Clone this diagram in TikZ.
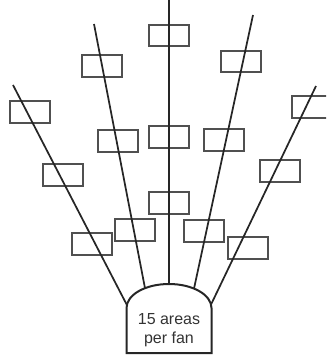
\documentclass[tikz,border=0pt]{standalone}
\usepackage{fontspec}
\setmainfont{Liberation Sans}
\definecolor{linegray}{HTML}{262626}
\definecolor{boxgray}{HTML}{505050}
\definecolor{textgray}{HTML}{333333}
\begin{document}
\begin{tikzpicture}[x=0.75pt,y=-0.75pt,
  area/.style={draw=boxgray,line width=1.5pt,minimum width=30pt,minimum height=16pt,inner sep=0pt},
  ray/.style={draw=linegray,line width=1.3pt},
  base/.style={draw=linegray,line width=1.5pt}]
\useasboundingbox (0,0) rectangle (326,356);
\begin{scope}
\clip (0,0) rectangle (326,356);
% base: straight sides with an elliptical dome on top
\draw[base] (126.5,353) -- (126.5,308)
  .. controls (126.5,294.7) and (145.5,284) .. (169,284)
  .. controls (192.5,284) and (211.5,294.7) .. (211.5,308)
  -- (211.5,353) -- cycle;
\node[text=textgray,font=\fontsize{12pt}{14pt}\selectfont,align=center] (label) at (169,330) {15 areas\\per fan};
% where the rays leave the dome
\coordinate (b1) at (126.9,305);
\coordinate (b2) at (145,288.2);
\coordinate (b3) at (168.8,284);
\coordinate (b4) at (194,288.6);
\coordinate (b5) at (210.8,305);
% free ends of the rays
\coordinate (t1) at (13,85);
\coordinate (t2) at (94,24);
\coordinate (t3) at (168.8,0);
\coordinate (t4) at (253,15);
\coordinate (t5) at (316,86);
% areas along each ray
\node[area] (a1) at (29.5,112) {};
\node[area] (a2) at (63,175) {};
\node[area] (a3) at (91.7,244) {};
\node[area] (a4) at (102,66) {};
\node[area] (a5) at (118,141) {};
\node[area] (a6) at (135,230) {};
\node[area] (a7) at (168.8,35.5) {};
\node[area] (a8) at (168.8,137) {};
\node[area] (a9) at (168.8,203) {};
\node[area] (a10) at (240.7,61.5) {};
\node[area] (a11) at (223.5,140) {};
\node[area] (a12) at (204,231) {};
\node[area] (a13) at (312,107) {};
\node[area] (a14) at (280,171) {};
\node[area] (a15) at (248,248) {};
% rays
\foreach \i in {1,...,5}{\draw[ray] (b\i) -- (t\i);}
\end{scope}
\end{tikzpicture}
\end{document}
